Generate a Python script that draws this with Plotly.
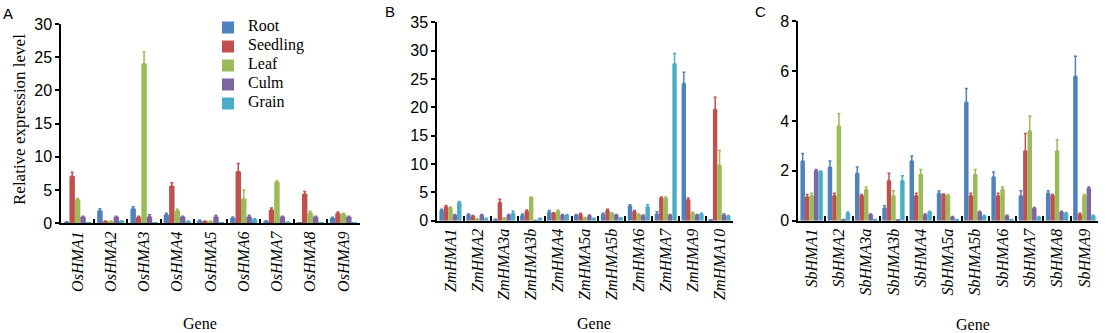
import plotly.graph_objects as go

# Tissues and bar colours
tissues = ["Root", "Seedling", "Leaf", "Culm", "Grain"]
colors = ["#4F81BD", "#C0504D", "#9BBB59", "#8064A2", "#4BACC6"]

# Panel A: rice (Os) genes
os_genes = ["OsHMA1", "OsHMA2", "OsHMA3", "OsHMA4", "OsHMA5",
            "OsHMA6", "OsHMA7", "OsHMA8", "OsHMA9"]
os_root = [0.2, 1.9, 2.2, 1.3, 0.4, 0.8, 0.3, 0.05, 0.8]
os_seedling = [7.1, 0.3, 0.9, 5.6, 0.3, 7.8, 2.0, 4.4, 1.5]
os_leaf = [3.6, 0.3, 24.0, 1.9, 0.3, 3.7, 6.2, 1.6, 1.4]
os_culm = [1.0, 1.0, 1.0, 1.0, 1.0, 1.0, 1.0, 1.0, 1.0]
os_grain = [0.05, 0.35, 0.05, 0.3, 0.05, 0.6, 0.15, 0.05, 0.05]
os_root_sd = [0.05, 0.3, 0.3, 0.2, 0.1, 0.15, 0.1, 0.0, 0.1]
os_seedling_sd = [0.6, 0.05, 0.15, 0.5, 0.05, 1.2, 0.3, 0.4, 0.2]
os_leaf_sd = [0.15, 0.05, 1.8, 0.2, 0.05, 1.3, 0.2, 0.2, 0.1]
os_culm_sd = [0.05, 0.05, 0.3, 0.05, 0.2, 0.2, 0.05, 0.05, 0.05]
os_grain_sd = [0.0, 0.05, 0.0, 0.05, 0.0, 0.1, 0.05, 0.0, 0.0]

# Panel B: maize (Zm) genes
zm_genes = ["ZmHMA1", "ZmHMA2", "ZmHMA3a", "ZmHMA3b", "ZmHMA4", "ZmHMA5a",
            "ZmHMA5b", "ZmHMA6", "ZmHMA7", "ZmHMA9", "ZmHMA10"]
zm_root = [1.8, 1.1, 0.2, 0.9, 1.5, 1.0, 1.1, 2.6, 1.2, 24.2, 0.1]
zm_seedling = [2.4, 0.8, 3.2, 1.7, 1.3, 1.1, 1.8, 1.6, 4.0, 3.7, 19.6]
zm_leaf = [2.3, 0.3, 0.4, 4.1, 1.7, 0.5, 1.3, 1.1, 4.0, 1.4, 9.8]
zm_culm = [1.0, 1.0, 1.0, 0.05, 1.0, 0.9, 1.0, 0.9, 1.0, 1.0, 1.0]
zm_grain = [3.2, 0.4, 1.3, 0.4, 1.0, 0.4, 0.45, 2.4, 27.7, 1.2, 0.8]
zm_root_sd = [0.2, 0.1, 0.05, 0.3, 0.3, 0.1, 0.2, 0.2, 0.4, 2.0, 0.05]
zm_seedling_sd = [0.3, 0.1, 0.6, 0.2, 0.1, 0.2, 0.2, 0.2, 0.2, 0.3, 2.2]
zm_leaf_sd = [0.1, 0.05, 0.1, 0.1, 0.2, 0.05, 0.1, 0.1, 0.2, 0.1, 2.6]
zm_culm_sd = [0.1, 0.1, 0.1, 0.0, 0.1, 0.1, 0.1, 0.1, 0.1, 0.1, 0.2]
zm_grain_sd = [0.2, 0.05, 0.4, 0.05, 0.1, 0.05, 0.05, 0.4, 1.8, 0.1, 0.1]

# Panel C: sorghum (Sb) genes
sb_genes = ["SbHMA1", "SbHMA2", "SbHMA3a", "SbHMA3b", "SbHMA4", "SbHMA5a",
            "SbHMA5b", "SbHMA6", "SbHMA7", "SbHMA8", "SbHMA9"]
sb_root = [2.4, 2.15, 1.9, 0.5, 2.4, 1.1, 4.75, 1.75, 1.0, 1.1, 5.8]
sb_seedling = [0.95, 1.0, 1.0, 1.6, 1.0, 1.05, 1.0, 1.0, 2.8, 1.0, 0.25]
sb_leaf = [1.0, 3.8, 1.25, 1.0, 1.85, 1.0, 1.85, 1.25, 3.6, 2.8, 1.0]
sb_culm = [2.0, 0.05, 0.25, 0.02, 0.25, 0.15, 0.35, 0.2, 0.5, 0.35, 1.3]
sb_grain = [1.97, 0.3, 0.05, 1.6, 0.35, 0.05, 0.2, 0.05, 0.15, 0.3, 0.2]
sb_root_sd = [0.3, 0.25, 0.25, 0.1, 0.2, 0.1, 0.55, 0.2, 0.2, 0.1, 0.8]
sb_seedling_sd = [0.1, 0.1, 0.05, 0.3, 0.1, 0.02, 0.1, 0.1, 0.7, 0.05, 0.05]
sb_leaf_sd = [0.1, 0.5, 0.1, 0.2, 0.2, 0.05, 0.2, 0.1, 0.6, 0.45, 0.05]
sb_culm_sd = [0.05, 0.0, 0.02, 0.0, 0.02, 0.02, 0.03, 0.02, 0.03, 0.03, 0.05]
sb_grain_sd = [0.02, 0.05, 0.0, 0.2, 0.03, 0.0, 0.02, 0.0, 0.02, 0.03, 0.02]

panels = [
    dict(genes=os_genes, xa="x", ya="y",
         means=[os_root, os_seedling, os_leaf, os_culm, os_grain],
         sds=[os_root_sd, os_seedling_sd, os_leaf_sd, os_culm_sd, os_grain_sd]),
    dict(genes=zm_genes, xa="x2", ya="y2",
         means=[zm_root, zm_seedling, zm_leaf, zm_culm, zm_grain],
         sds=[zm_root_sd, zm_seedling_sd, zm_leaf_sd, zm_culm_sd, zm_grain_sd]),
    dict(genes=sb_genes, xa="x3", ya="y3",
         means=[sb_root, sb_seedling, sb_leaf, sb_culm, sb_grain],
         sds=[sb_root_sd, sb_seedling_sd, sb_leaf_sd, sb_culm_sd, sb_grain_sd]),
]

SERIF = "Liberation Serif, Times New Roman, serif"
SANS = "Liberation Sans, Arial, sans-serif"

fig = go.Figure()
for p_i, p in enumerate(panels):
    for t_i, name in enumerate(tissues):
        fig.add_trace(go.Bar(
            x=p["genes"], y=p["means"][t_i],
            name=f"<span style='font-size:16px'>{name}</span>",
            legendgroup=name, showlegend=(p_i == 0),
            marker=dict(color=colors[t_i], line=dict(width=0)),
            error_y=dict(type="data", array=p["sds"][t_i], symmetric=False,
                         arrayminus=[0] * len(p["genes"]),
                         color=colors[t_i], thickness=1.5, width=1.5),
            xaxis=p["xa"], yaxis=p["ya"],
        ))


def xaxis_style(genes, domain, anchor):
    return dict(
        domain=domain, anchor=anchor, type="category",
        range=[-0.5, len(genes) - 0.5],
        tickmode="array", tickvals=genes,
        ticktext=[f"<i>{g}</i>" for g in genes],
        tickangle=-90, tickfont=dict(family=SERIF, size=16, color="black"),
        showline=True, linecolor="black", linewidth=1.5,
        ticks="inside", tickson="boundaries", ticklen=5,
        tickcolor="black", tickwidth=1.5, showgrid=False, automargin=False,
    )


def yaxis_style(domain, anchor, top, step):
    return dict(
        domain=domain, anchor=anchor, range=[0, top], dtick=step,
        tick0=0, showline=True, linecolor="black", linewidth=1.5,
        ticks="outside", ticklen=4, tickcolor="black", tickwidth=1.5,
        tickfont=dict(family=SANS, size=16, color="black"),
        showgrid=False, zeroline=False, automargin=False,
    )


W, H = 1106, 333
fig.update_layout(
    width=W, height=H, margin=dict(l=0, r=0, t=0, b=0, pad=0),
    paper_bgcolor="white", plot_bgcolor="white",
    barmode="group", bargap=0.18, bargroupgap=0,
    showlegend=True,
    legend=dict(x=208 / W, y=1 - 13 / H, xanchor="left", yanchor="top",
                font=dict(family=SERIF, size=10, color="black"),
                bgcolor="rgba(0,0,0,0)", tracegroupgap=0),
    xaxis=xaxis_style(os_genes, [61 / W, 360 / W], "y"),
    yaxis=yaxis_style([(H - 223.3) / H, (H - 24) / H], "x", 30, 5),
    xaxis2=xaxis_style(zm_genes, [437 / W, 733 / W], "y2"),
    yaxis2=yaxis_style([(H - 220.7) / H, (H - 22.3) / H], "x2", 35, 5),
    xaxis3=xaxis_style(sb_genes, [798 / W, 1098 / W], "y3"),
    yaxis3=yaxis_style([(H - 220.7) / H, (H - 21.3) / H], "x3", 8, 2),
)

annotations = [
    dict(text="A", x=8 / W, y=1 - 13 / H, font=dict(family=SANS, size=15)),
    dict(text="B", x=390 / W, y=1 - 12 / H, font=dict(family=SANS, size=15)),
    dict(text="C", x=760 / W, y=1 - 12 / H, font=dict(family=SANS, size=15)),
    dict(text="Gene", x=200 / W, y=1 - 323 / H, font=dict(family=SERIF, size=16)),
    dict(text="Gene", x=594 / W, y=1 - 323 / H, font=dict(family=SERIF, size=16)),
    dict(text="Gene", x=973 / W, y=1 - 324 / H, font=dict(family=SERIF, size=16)),
    dict(text="Relative expression level", x=19 / W, y=1 - 120 / H, textangle=-90,
         font=dict(family=SERIF, size=17)),
]
for a in annotations:
    a.update(xref="paper", yref="paper", showarrow=False,
             xanchor="center", yanchor="middle")
    a["font"]["color"] = "black"
fig.update_layout(annotations=annotations)

fig.write_html("out.html")
